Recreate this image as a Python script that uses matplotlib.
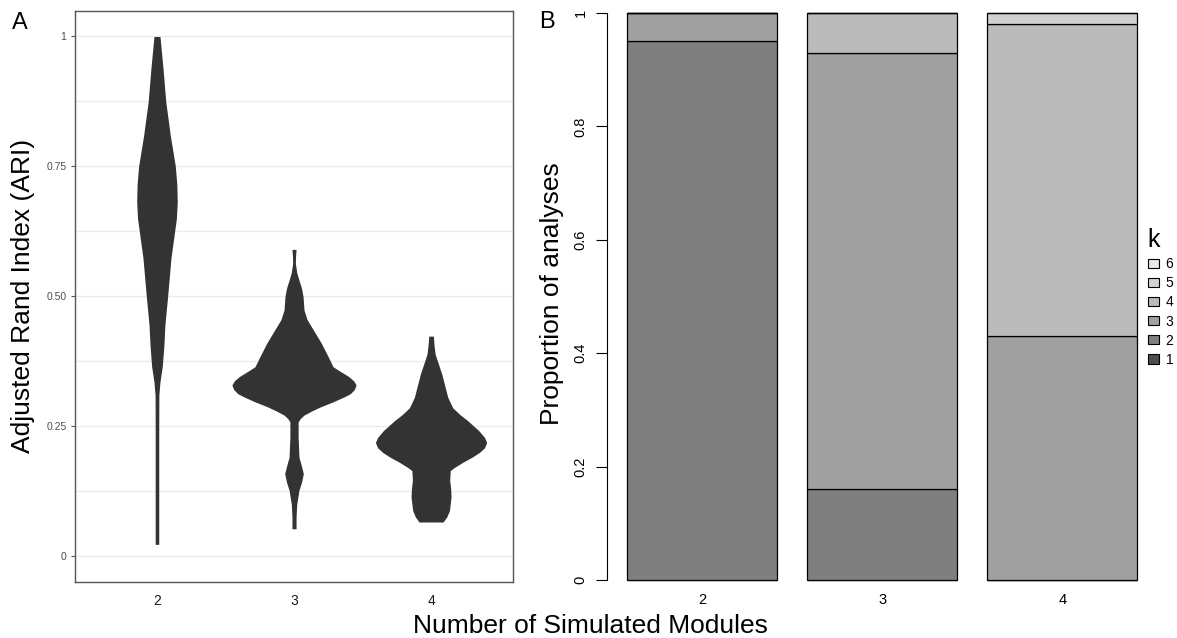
import numpy as np
import matplotlib
matplotlib.use("Agg")
import matplotlib.pyplot as plt
from matplotlib.patches import Patch

plt.rcParams['font.family'] = ['Liberation Sans', 'DejaVu Sans']

# ---------------------------
# Panel A: violin outlines (y value, half width)
# ---------------------------
modules = ["2", "3", "4"]

v2_y = [1.000, 0.939, 0.875, 0.810, 0.750, 0.715, 0.682, 0.650, 0.625, 0.573,
        0.500, 0.445, 0.407, 0.365, 0.335, 0.310, 0.250, 0.100, 0.022]
v2_w = [0.022, 0.044, 0.064, 0.097, 0.134, 0.145, 0.148, 0.142, 0.129, 0.102,
        0.078, 0.058, 0.051, 0.039, 0.022, 0.014, 0.013, 0.013, 0.013]

v3_y = [0.590, 0.575, 0.563, 0.545, 0.531, 0.515, 0.499, 0.473, 0.455, 0.441,
        0.409, 0.383, 0.364, 0.358, 0.345, 0.337, 0.329, 0.320, 0.312, 0.306,
        0.297, 0.287, 0.279, 0.271, 0.264, 0.258, 0.229, 0.190, 0.172, 0.158,
        0.142, 0.126, 0.100, 0.075, 0.052]
v3_w = [0.015, 0.011, 0.010, 0.020, 0.036, 0.055, 0.066, 0.073, 0.095, 0.127,
        0.200, 0.250, 0.285, 0.320, 0.400, 0.435, 0.453, 0.440, 0.410, 0.365,
        0.290, 0.195, 0.130, 0.073, 0.045, 0.030, 0.030, 0.036, 0.055, 0.068,
        0.055, 0.036, 0.020, 0.015, 0.015]

v4_y = [0.423, 0.405, 0.388, 0.350, 0.305, 0.285, 0.272, 0.260, 0.241, 0.228,
        0.218, 0.208, 0.199, 0.190, 0.180, 0.170, 0.164, 0.145, 0.130, 0.113,
        0.087, 0.075, 0.065]
v4_w = [0.017, 0.022, 0.030, 0.078, 0.122, 0.158, 0.210, 0.268, 0.348, 0.390,
        0.406, 0.390, 0.353, 0.300, 0.231, 0.170, 0.140, 0.136, 0.143, 0.146,
        0.134, 0.115, 0.088]

# ---------------------------
# Panel B: proportion of analyses choosing k
# ---------------------------
k_levels = [1, 2, 3, 4, 5, 6]
prop_mod2 = [0.00, 0.95, 0.05, 0.00, 0.00, 0.00]
prop_mod3 = [0.00, 0.16, 0.77, 0.07, 0.00, 0.00]
prop_mod4 = [0.00, 0.00, 0.43, 0.55, 0.02, 0.00]
k_colors = ["#4D4D4D", "#7F7F7F", "#A0A0A0", "#BBBBBB", "#D1D1D1", "#E6E6E6"]

fig = plt.figure(figsize=(11.77, 6.38), dpi=100)

# ---- Panel A ----
axA = fig.add_axes([0.0635, 0.0882, 0.3726, 0.8953])
for i, (vy, vw) in enumerate([(v2_y, v2_w), (v3_y, v3_w), (v4_y, v4_w)]):
    pos = i + 1
    vy = np.array(vy)
    vw = np.array(vw)
    axA.fill_betweenx(vy, pos - vw, pos + vw, color="#333333", lw=0, zorder=3)

axA.set_xlim(0.4, 3.6)
axA.set_ylim(-0.05, 1.05)
axA.set_xticks([1, 2, 3])
axA.set_xticklabels(modules)
axA.set_yticks([0, 0.25, 0.5, 0.75, 1])
axA.set_yticklabels(["0", "0.25", "0.50", "0.75", "1"])
axA.set_yticks([0.125, 0.375, 0.625, 0.875], minor=True)
axA.grid(axis="y", which="both", color="#EBEBEB", lw=1.0, zorder=0)
axA.tick_params(axis="x", length=0, pad=9, labelsize=10, labelcolor="#1a1a1a")
axA.tick_params(axis="y", which="major", length=3, width=0.8, color="#555555",
                pad=3, labelsize=7.5, labelcolor="#4D4D4D")
axA.tick_params(axis="y", which="minor", length=0)
for s in axA.spines.values():
    s.set_color("#555555")
    s.set_linewidth(1.0)

# ---- Panel B ----
axB = fig.add_axes([0.5157, 0.0909, 0.468, 0.8887])
centers = [0.7, 1.9, 3.1]
bottoms = np.zeros(3)
for j, k in enumerate(k_levels):
    vals = np.array([prop_mod2[j], prop_mod3[j], prop_mod4[j]])
    axB.bar(centers, vals, width=1.0, bottom=bottoms, color=k_colors[j],
            edgecolor="black", linewidth=0.9, clip_on=False)
    bottoms += vals

axB.set_xlim(0.064, 3.736)
axB.set_ylim(0, 1)
axB.set_xticks(centers)
axB.set_xticklabels(modules)
axB.set_yticks([0, 0.2, 0.4, 0.6, 0.8, 1.0])
axB.set_yticklabels(["0", "0.2", "0.4", "0.6", "0.8", "1"], rotation=90, va="center")
axB.tick_params(axis="x", length=0, pad=9, labelsize=10.5)
axB.tick_params(axis="y", length=8, width=0.8, pad=6, labelsize=10.5)
for side in ["top", "right", "bottom"]:
    axB.spines[side].set_visible(False)
axB.spines["left"].set_bounds(0, 1)
axB.spines["left"].set_linewidth(0.8)

handles = [Patch(facecolor=k_colors[j], edgecolor="black", lw=0.8)
           for j in range(len(k_levels))][::-1]
labels = [str(k) for k in k_levels][::-1]
leg = fig.legend(handles, labels, title="k", loc="upper left",
                 bbox_to_anchor=(1147.5 / 1177, 1 - 228 / 638), frameon=False,
                 fontsize=10, title_fontsize=18, handlelength=0.81,
                 handleheight=0.65, handletextpad=0.5, labelspacing=0.37,
                 borderaxespad=0, borderpad=0)
leg._legend_box.align = "left"

# ---- shared labels ----
fig.text(590 / 1177, 1 - 626 / 638, "Number of Simulated Modules",
         ha="center", va="center", fontsize=19)
fig.text(23 / 1177, 1 - 296 / 638, "Adjusted Rand Index (ARI)",
         ha="center", va="center", rotation=90, fontsize=19)
fig.text(552 / 1177, 1 - 294 / 638, "Proportion of analyses",
         ha="center", va="center", rotation=90, fontsize=19)
fig.text(12 / 1177, 1 - 12 / 638, "A", ha="left", va="top", fontsize=17)
fig.text(539 / 1177, 1 - 11 / 638, "B", ha="left", va="top", fontsize=17)

fig.savefig("out.png", dpi=100)
